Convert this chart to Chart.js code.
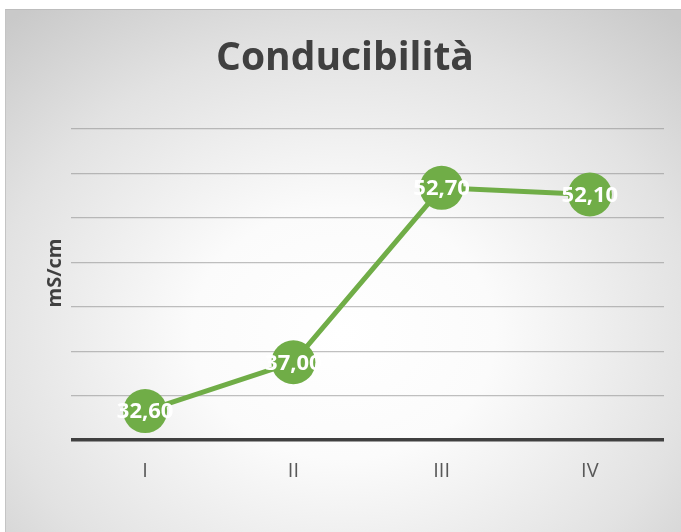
<!DOCTYPE html>
<html>
<head>
<meta charset="utf-8">
<script src="https://cdn.jsdelivr.net/npm/chart.js@4.4.1/dist/chart.umd.min.js"></script>
<style>
  html, body { margin:0; padding:0; background:#ffffff; }
  body { width:681px; height:532px; position:relative; overflow:hidden; }
  #wrap {
    position:absolute; left:5px; top:9px; width:676px; height:523px;
    background: radial-gradient(ellipse 75% 80% at 50% 62%, #ffffff 0%, #fbfbfb 30%, #e2e2e2 70%, #c9c9c9 100%);
    border-top:1px solid #bdbdbd; border-left:1px solid #c4c4c4; box-sizing:border-box;
  }
  canvas { display:block; }
</style>
</head>
<body>
<div id="wrap"><canvas id="c" width="675" height="522"></canvas></div>
<script>
const categories = ["I", "II", "III", "IV"];
const conducibilita = [32.60, 37.00, 52.70, 52.10];
const chartTitle = "Conducibilità";
const yAxisTitle = "mS/cm";
const yMin = 30, yMax = 58, yStep = 4;

const fmt = v => v.toFixed(2).replace('.', ',');

const labelsPlugin = {
  id: 'pointLabels',
  afterDatasetsDraw(chart) {
    const ctx = chart.ctx;
    const meta = chart.getDatasetMeta(0);
    ctx.save();
    ctx.font = 'bold 22px "Open Sans"';
    ctx.fillStyle = '#ffffff';
    ctx.textAlign = 'center';
    ctx.textBaseline = 'middle';
    meta.data.forEach((pt, i) => {
      ctx.fillText(fmt(chart.data.datasets[0].data[i]), pt.x, pt.y + 1);
    });
    ctx.restore();
  }
};

const textPlugin = {
  id: 'texts',
  afterDraw(chart) {
    const ctx = chart.ctx;
    ctx.save();
    ctx.font = 'bold 39px "Open Sans"';
    ctx.fillStyle = '#404040';
    ctx.textAlign = 'center';
    ctx.textBaseline = 'middle';
    ctx.fillText(chartTitle, 339, 49);
    ctx.translate(49, 263);
    ctx.rotate(-Math.PI / 2);
    ctx.font = 'bold 20px "Open Sans"';
    ctx.fillText(yAxisTitle, 0, 0);
    ctx.restore();
  }
};

new Chart(document.getElementById('c'), {
  type: 'line',
  data: {
    labels: categories,
    datasets: [{
      data: conducibilita,
      borderColor: '#70AD47',
      backgroundColor: '#70AD47',
      borderWidth: 5,
      pointRadius: 22,
      pointHoverRadius: 22,
      pointBackgroundColor: '#70AD47',
      pointBorderWidth: 0,
      tension: 0,
      clip: false
    }]
  },
  options: {
    responsive: false,
    animation: false,
    events: [],
    layout: { autoPadding: false, padding: { left: 0, right: 17, top: 119, bottom: 0 } },
    plugins: {
      legend: { display: false },
      tooltip: { enabled: false },
      title: { display: false }
    },
    scales: {
      x: {
        offset: true,
        grid: { display: false, drawTicks: false },
        border: { display: false },
        ticks: { color: '#595959', font: { family: '"Open Sans"', size: 20 }, padding: 19 },
        afterFit(s) { s.height = 92; }
      },
      y: {
        min: yMin, max: yMax,
        ticks: { display: false, stepSize: yStep },
        grid: {
          drawTicks: false,
          color: ctx => ctx.tick && ctx.tick.value === yMin ? '#404040' : 'rgba(140,140,140,0.55)',
          lineWidth: ctx => ctx.tick && ctx.tick.value === yMin ? 3.5 : 1.2
        },
        border: { display: false },
        afterFit(s) { s.width = 65; }
      }
    }
  },
  plugins: [labelsPlugin, textPlugin]
});
</script>
</body>
</html>
